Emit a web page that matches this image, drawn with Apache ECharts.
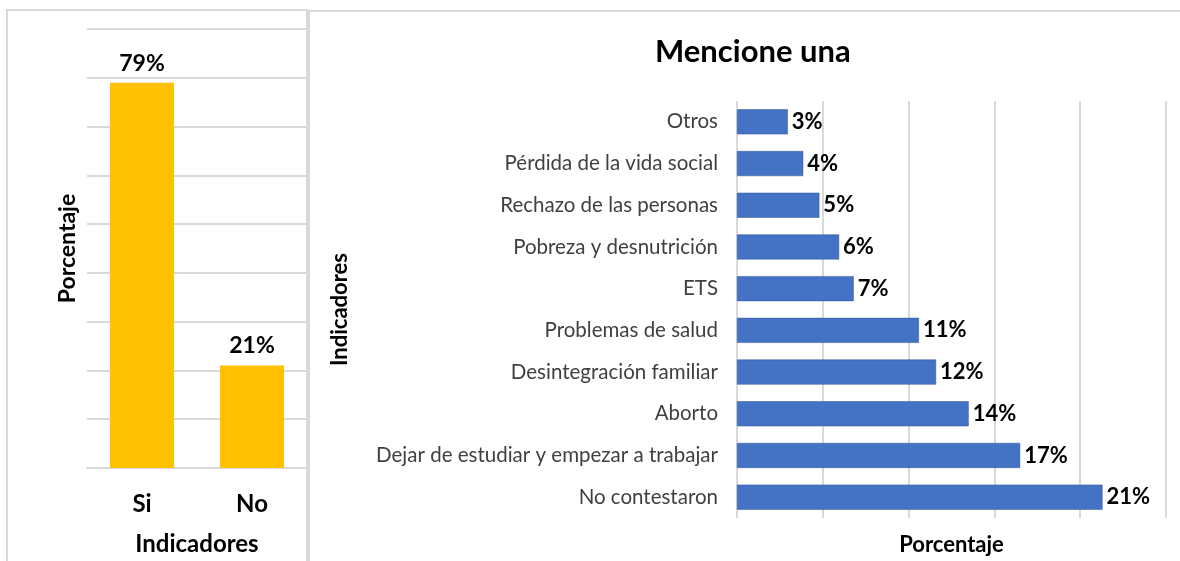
<!DOCTYPE html>
<html>
<head>
<meta charset="utf-8">
<script src="https://cdn.jsdelivr.net/npm/echarts@6/dist/echarts.min.js"></script>
<style>
  html, body { margin: 0; padding: 0; background: #fff; }
  #chart { width: 1180px; height: 561px; }
</style>
</head>
<body>
<div id="chart"></div>
<script>
// datos del gráfico izquierdo
const respuestas = ['Si', 'No']
const respuestasPct = [79, 21]

// datos del gráfico derecho (de arriba hacia abajo)
const indicadores = [
  'Otros',
  'Pérdida de la vida social',
  'Rechazo de las personas',
  'Pobreza y desnutrición',
  'ETS',
  'Problemas de salud',
  'Desintegración familiar',
  'Aborto',
  'Dejar de estudiar y empezar a trabajar',
  'No contestaron'
]
const indicadoresPct = [2.96, 3.86, 4.8, 5.95, 6.8, 10.6, 11.6, 13.5, 16.5, 21.3]

const FONT = 'Lato, "Noto Sans", sans-serif'
const GRID_COLOR = '#d9d9d9'

const chart = echarts.init(document.getElementById('chart'))

const option = {
  backgroundColor: '#fff',
  textStyle: { fontFamily: FONT },
  title: {
    text: 'Mencione una',
    left: 650,
    top: 31,
    textStyle: { fontFamily: FONT, fontSize: 31, fontWeight: 'bold', color: '#000' }
  },
  // marcos de los dos paneles
  graphic: [
    {
      type: 'rect',
      shape: { x: 7, y: 10, width: 300, height: 560 },
      style: { fill: 'none', stroke: GRID_COLOR, lineWidth: 2 },
      z: -1
    },
    {
      type: 'rect',
      shape: { x: 309, y: 11, width: 880, height: 560 },
      style: { fill: 'none', stroke: GRID_COLOR, lineWidth: 2 },
      z: -1
    }
  ],
  grid: [
    { left: 87, right: 873, top: 29, bottom: 90 },
    { left: 737, right: 14, top: 101, bottom: 34 }
  ],
  xAxis: [
    {
      gridIndex: 0,
      type: 'category',
      data: respuestas,
      axisLine: { lineStyle: { color: GRID_COLOR, width: 2 } },
      axisTick: { show: false },
      axisLabel: { margin: 24, fontSize: 24, fontWeight: 'bold', color: '#000' },
      name: 'Indicadores',
      nameLocation: 'middle',
      nameGap: 64,
      nameTextStyle: { fontSize: 24, fontWeight: 'bold', color: '#000' }
    },
    {
      gridIndex: 1,
      type: 'value',
      min: 0,
      max: 25,
      interval: 5,
      axisLine: { show: false },
      axisTick: { show: false },
      axisLabel: { show: false },
      splitLine: { lineStyle: { color: GRID_COLOR, width: 2 } },
      name: 'Porcentaje',
      nameLocation: 'middle',
      nameGap: 16,
      nameTextStyle: { fontSize: 22, fontWeight: 'bold', color: '#000' }
    }
  ],
  yAxis: [
    {
      gridIndex: 0,
      type: 'value',
      min: 0,
      max: 90,
      interval: 10,
      axisLine: { show: false },
      axisTick: { show: false },
      axisLabel: { show: false },
      splitLine: { lineStyle: { color: GRID_COLOR, width: 2 } },
      name: 'Porcentaje',
      nameLocation: 'middle',
      nameGap: 8,
      nameTextStyle: { fontSize: 23, fontWeight: 'bold', color: '#000' }
    },
    {
      gridIndex: 1,
      type: 'category',
      data: indicadores,
      inverse: true,
      axisLine: { show: false },
      axisTick: { show: false },
      axisLabel: { margin: 19, fontSize: 20.5, color: '#404040' },
      name: 'Indicadores',
      nameLocation: 'middle',
      nameGap: 386,
      nameTextStyle: { fontSize: 22, fontWeight: 'bold', color: '#000' }
    }
  ],
  series: [
    {
      type: 'bar',
      xAxisIndex: 0,
      yAxisIndex: 0,
      data: respuestasPct,
      barWidth: 64,
      itemStyle: { color: '#FFC000' },
      label: {
        show: true,
        position: 'top',
        distance: 8,
        formatter: '{c}%',
        fontSize: 23,
        fontWeight: 'bold',
        color: '#000'
      }
    },
    {
      type: 'bar',
      xAxisIndex: 1,
      yAxisIndex: 1,
      data: indicadoresPct,
      barWidth: 25,
      itemStyle: { color: '#4472C4', borderColor: '#2f5597', borderWidth: 0.5 },
      label: {
        show: true,
        position: 'right',
        distance: 4,
        formatter: p => Math.round(p.value) + '%',
        fontSize: 22,
        fontWeight: 'bold',
        color: '#000'
      }
    }
  ]
}

chart.setOption(option)
window.addEventListener('resize', () => chart.resize())
</script>
</body>
</html>
